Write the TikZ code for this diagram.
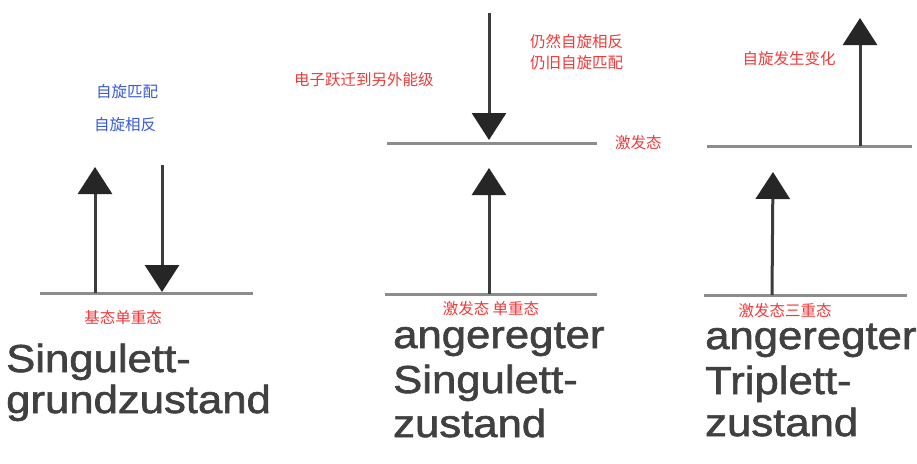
\documentclass[tikz,border=0pt]{standalone}
\usepackage{fontspec}
\setmainfont{Liberation Sans}
\newfontfamily\cjk{Noto Sans CJK SC}
\newfontfamily\german[FakeStretch=1.12,FakeBold=1.6]{Liberation Sans}
\usetikzlibrary{arrows.meta}
\definecolor{cnred}{HTML}{F03A3A}
\definecolor{cnblue}{HTML}{3A5BD6}
\definecolor{lvl}{HTML}{8C8C8C}
\definecolor{arr}{HTML}{262626}
\definecolor{shaft}{HTML}{3C3C3C}
\definecolor{txt}{HTML}{404040}
\begin{document}
\begin{tikzpicture}[x=1pt,y=-1pt,
  level/.style={draw=lvl,line width=3pt},
  spin/.style={draw=shaft,line width=3pt,-{Triangle[width=34pt,length=27pt,color=arr]}},
  cnr/.style={font=\cjk\fontsize{15.5}{18}\selectfont,text=cnred,inner sep=0pt},
  cnb/.style={font=\cjk\fontsize{15.5}{18}\selectfont,text=cnblue,inner sep=0pt},
  de/.style={font=\german\fontsize{39}{44}\selectfont,text=txt,inner sep=0pt,anchor=base west}]
\useasboundingbox[fill=white] (0,0) rectangle (917,463);

% energy levels
\coordinate (g1a) at (40,293);  \coordinate (g1b) at (253,293);
\coordinate (e2a) at (387,143); \coordinate (e2b) at (597,143);
\coordinate (g2a) at (385,294); \coordinate (g2b) at (597,294);
\coordinate (e3a) at (707,146); \coordinate (e3b) at (912,146);
\coordinate (g3a) at (704,295); \coordinate (g3b) at (907,295);
\draw[level] (g1a) -- (g1b);
\draw[level] (e2a) -- (e2b);
\draw[level] (g2a) -- (g2b);
\draw[level] (e3a) -- (e3b);
\draw[level] (g3a) -- (g3b);

% spin arrows
\coordinate (u1s) at (95,293);  \coordinate (u1t) at (95,167);
\coordinate (d1s) at (162,165); \coordinate (d1t) at (162,292);
\coordinate (d2s) at (489,13);  \coordinate (d2t) at (489,140);
\coordinate (u2s) at (489,294); \coordinate (u2t) at (489,168);
\coordinate (u3s) at (860,146); \coordinate (u3t) at (860,18);
\coordinate (v3s) at (772,295); \coordinate (v3t) at (773,172);
\draw[spin] (u1s) -- (u1t);
\draw[spin] (d1s) -- (d1t);
\draw[spin] (d2s) -- (d2t);
\draw[spin] (u2s) -- (u2t);
\draw[spin] (u3s) -- (u3t);
\draw[spin] (v3s) -- (v3t);

% chinese labels
\node[cnb] (pm) at (127,92) {自旋匹配};
\node[cnb] (fx) at (125,125) {自旋相反};
\node[cnr] (jt) at (123,318) {基态单重态};
\node[cnr,anchor=west] (yq) at (294,80) {电子跃迁到另外能级};
\node[cnr,anchor=west] (rr) at (530,42) {仍然自旋相反};
\node[cnr,anchor=west] (rj) at (530,63) {仍旧自旋匹配};
\node[cnr,anchor=west] (jf) at (615,143) {激发态};
\node[cnr] (jd) at (491,309) {激发态 单重态};
\node[cnr] (bh) at (789,59) {自旋发生变化};
\node[cnr] (js) at (785,311) {激发态三重态};

% german labels
\node[de] (a1) at (6,372) {Singulett-};
\node[de] (a2) at (6,413) {grundzustand};
\node[de] (b1) at (393,348) {angeregter};
\node[de] (b2) at (393,393) {Singulett-};
\node[de] (b3) at (393,437) {zustand};
\node[de] (c1) at (705,349) {angeregter};
\node[de] (c2) at (705,394) {Triplett-};
\node[de] (c3) at (705,436) {zustand};
\end{tikzpicture}
\end{document}
